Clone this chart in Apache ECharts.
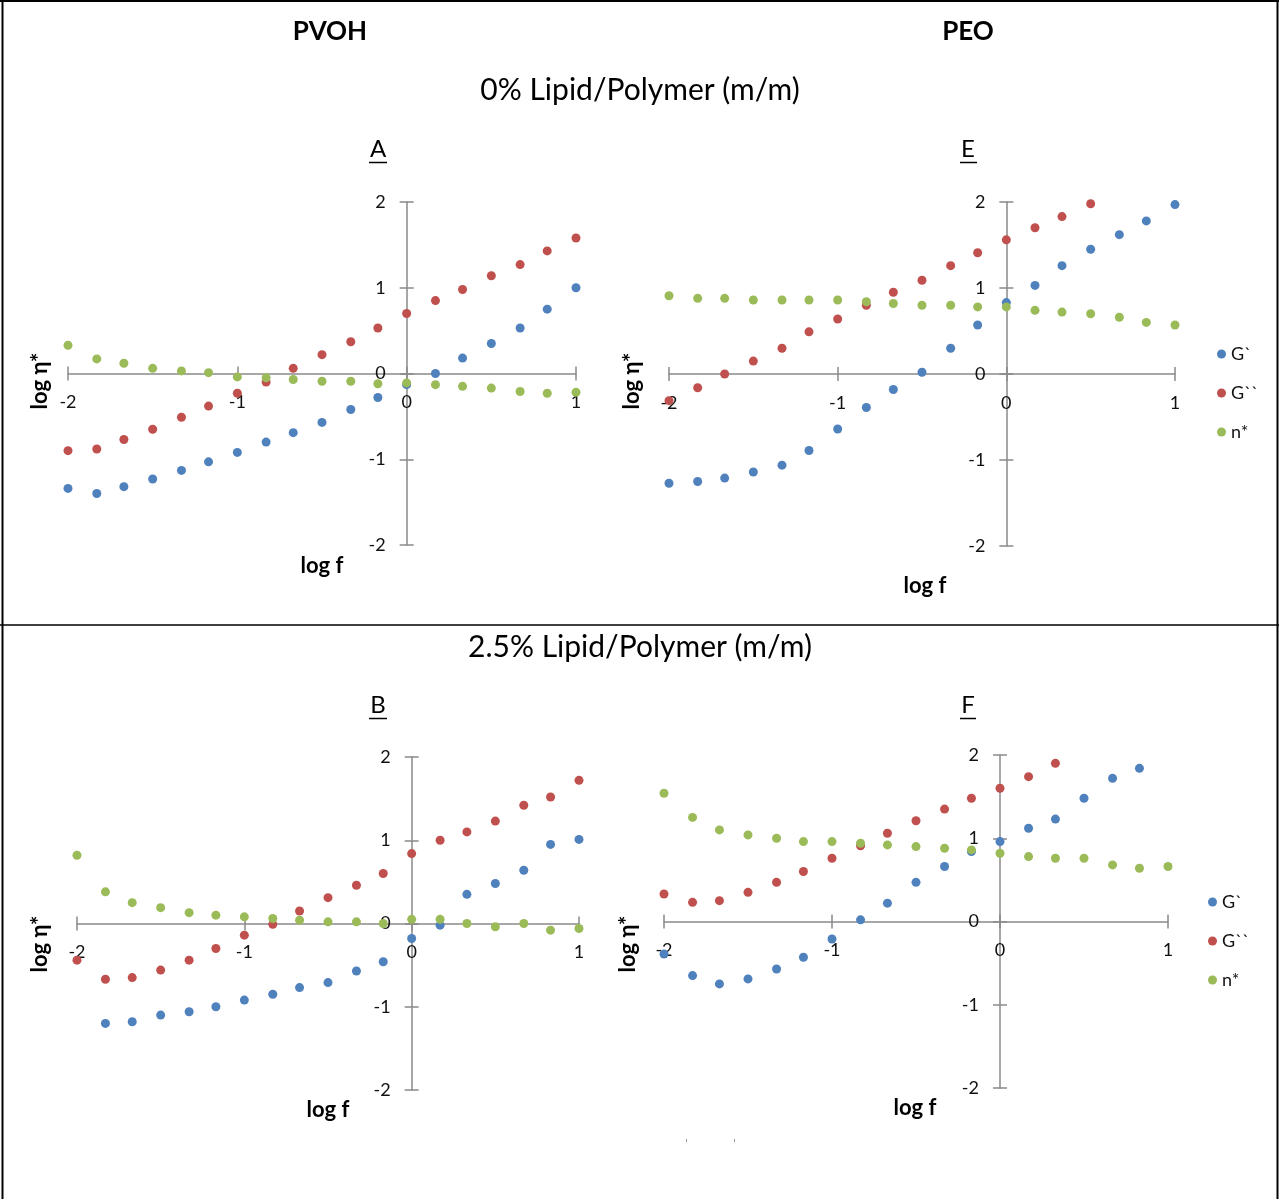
<!DOCTYPE html>
<html><head><meta charset="utf-8">
<script src="https://cdn.jsdelivr.net/npm/echarts@6/dist/echarts.min.js"></script>
<style>html,body{margin:0;padding:0;background:#fff}#c{width:1279px;height:1199px}</style>
</head><body><div id="c"></div>
<script>
// ---- data ----
const logF = [-2.00,-1.83,-1.67,-1.50,-1.33,-1.17,-1.00,-0.83,-0.67,-0.50,-0.33,-0.17,0.00,0.17,0.33,0.50,0.67,0.83,1.00];
const seriesNames = ['G`','G``','n*'];
const xTicks = [-2,-1,0,1];
const yTicks = [-2,-1,0,1,2];

// Panel A: PVOH, 0% lipid
const A_Gp  = [-1.34,-1.40,-1.32,-1.23,-1.13,-1.03,-0.92,-0.80,-0.69,-0.57,-0.42,-0.28,-0.13,0.00,0.18,0.35,0.53,0.75,1.00];
const A_Gpp = [-0.90,-0.88,-0.77,-0.65,-0.51,-0.38,-0.23,-0.10,0.06,0.22,0.37,0.53,0.70,0.85,0.98,1.14,1.27,1.43,1.58];
const A_N   = [0.33,0.17,0.12,0.06,0.03,0.01,-0.04,-0.05,-0.07,-0.09,-0.09,-0.12,-0.11,-0.13,-0.15,-0.17,-0.21,-0.23,-0.22];
// Panel E: PEO, 0% lipid
const E_Gp  = [-1.27,-1.25,-1.21,-1.14,-1.06,-0.89,-0.64,-0.39,-0.18,0.02,0.30,0.57,0.83,1.03,1.26,1.45,1.62,1.78,1.97];
const E_Gpp = [-0.31,-0.16,0.00,0.15,0.30,0.49,0.64,0.80,0.95,1.09,1.26,1.41,1.56,1.70,1.83,1.98,null,null,null];
const E_N   = [0.91,0.88,0.88,0.86,0.86,0.86,0.86,0.84,0.82,0.80,0.80,0.78,0.78,0.74,0.72,0.70,0.66,0.60,0.57];
// Panel B: PVOH, 2.5% lipid
const B_Gp  = [null,-1.20,-1.18,-1.10,-1.06,-1.00,-0.92,-0.85,-0.77,-0.71,-0.57,-0.46,-0.18,-0.02,0.35,0.48,0.64,0.95,1.01];
const B_Gpp = [-0.44,-0.67,-0.65,-0.56,-0.44,-0.30,-0.14,-0.01,0.15,0.31,0.46,0.60,0.84,1.00,1.10,1.23,1.42,1.52,1.72];
const B_N   = [0.82,0.38,0.25,0.19,0.13,0.10,0.08,0.06,0.04,0.02,0.02,0.00,0.05,0.05,0.00,-0.04,0.00,-0.08,-0.06];
// Panel F: PEO, 2.5% lipid
const F_Gp  = [-0.39,-0.65,-0.75,-0.69,-0.57,-0.43,-0.21,0.02,0.22,0.47,0.66,0.84,0.96,1.12,1.23,1.48,1.72,1.84,null];
const F_Gpp = [0.33,0.23,0.25,0.35,0.47,0.60,0.76,0.91,1.06,1.21,1.35,1.48,1.60,1.74,1.90,null,null,null,null];
const F_N   = [1.54,1.25,1.10,1.04,1.00,0.96,0.96,0.94,0.92,0.90,0.88,0.86,0.82,0.78,0.76,0.76,0.68,0.64,0.66];

// ---- layout & style ----
const COLORS = ['#4F81BD','#C0504D','#9BBB59'];
const FONT = 'Lato, "Open Sans", sans-serif';
const AXIS_COLOR = '#8a8a8a';
const panels = [
  {vals:[A_Gp,A_Gpp,A_N], left:68,  top:202, width:508, height:343},
  {vals:[E_Gp,E_Gpp,E_N], left:669, top:202, width:506, height:344},
  {vals:[B_Gp,B_Gpp,B_N], left:77,  top:757, width:502, height:333},
  {vals:[F_Gp,F_Gpp,F_N], left:664, top:755, width:504, height:333}
];

function pts(vals){
  const out = [];
  vals.forEach((v,i)=>{ if (v !== null) out.push([logF[i], v]); });
  return out;
}

const labelStyle = {fontSize:18, fontFamily:FONT, color:'#111'};
const grids = [], xAxes = [], yAxes = [], series = [];
panels.forEach((p, gi) => {
  grids.push({left:p.left, top:p.top, width:p.width, height:p.height, containLabel:false});
  const xOff = -p.height / 2;            // move x axis up to y = 0
  const yOff = -p.width * 2 / 3;         // move y axis right to x = 0
  const xBase = {type:'value', gridIndex:gi, min:xTicks[0], max:xTicks[xTicks.length-1], interval:1,
    position:'bottom', offset:xOff, splitLine:{show:false}};
  const yBase = {type:'value', gridIndex:gi, min:yTicks[0], max:yTicks[yTicks.length-1], interval:1,
    position:'left', offset:yOff, splitLine:{show:false}};
  xAxes.push(Object.assign({}, xBase, {
    axisLine:{show:true, onZero:false, lineStyle:{color:AXIS_COLOR, width:1.5}},
    axisTick:{show:true, inside:false, length:7, lineStyle:{color:AXIS_COLOR, width:1.5}},
    axisLabel:Object.assign({show:true, margin:20}, labelStyle)
  }));
  xAxes.push(Object.assign({}, xBase, {
    axisLine:{show:false, onZero:false},
    axisTick:{show:true, inside:true, length:7, lineStyle:{color:AXIS_COLOR, width:1.5}},
    axisLabel:{show:false}
  }));
  yAxes.push(Object.assign({}, yBase, {
    axisLine:{show:true, onZero:false, lineStyle:{color:AXIS_COLOR, width:1.5}},
    axisTick:{show:true, inside:false, length:7, lineStyle:{color:AXIS_COLOR, width:1.5}},
    axisLabel:Object.assign({show:true, margin:21}, labelStyle)
  }));
  yAxes.push(Object.assign({}, yBase, {
    axisLine:{show:false, onZero:false},
    axisTick:{show:true, inside:true, length:7, lineStyle:{color:AXIS_COLOR, width:1.5}},
    axisLabel:{show:false}
  }));
  p.vals.forEach((vals, si) => {
    series.push({
      type:'scatter', name:seriesNames[si], xAxisIndex:2*gi, yAxisIndex:2*gi,
      data:pts(vals), symbol:'circle', symbolSize:9, clip:false,
      itemStyle:{color:COLORS[si], opacity:1}, emphasis:{disabled:true}, z:2+si
    });
  });
});

function txt(text, x, y, font, rot){
  return {type:'text', x:x, y:y, rotation:rot||0, silent:true, z:10,
    style:{text:text, x:0, y:0, fill:'#000', font:font, align:'center', verticalAlign:'middle',
           textAlign:'center', textVerticalAlign:'middle'}};
}
function line(x1,y1,x2,y2,w,c){
  return {type:'line', silent:true, z:10, shape:{x1:x1,y1:y1,x2:x2,y2:y2}, style:{stroke:c||'#000', lineWidth:w||1}};
}
const titleFont = 'bold 26px ' + FONT;
const subFont = '30px ' + FONT;
const letterFont = '24px ' + FONT;
const axisNameFont = 'bold 22px ' + FONT;

const graphics = [
  line(0,1,1279,1,2), line(2.5,0,2.5,1199,2), line(1277.5,0,1277.5,1199,2), line(0,625,1279,625,1.5),
  txt('PVOH', 330, 32, titleFont), txt('PEO', 968, 32, titleFont),
  txt('0% Lipid/Polymer (m/m)', 640, 90, subFont),
  txt('2.5% Lipid/Polymer (m/m)', 640, 647, subFont),
  txt('A', 378, 149, letterFont), line(369,162.5,387,162.5,1.5),
  txt('E', 968, 149, letterFont), line(960,162.5,977,162.5,1.5),
  txt('B', 378, 705, letterFont), line(369,718.5,387,718.5,1.5),
  txt('F', 968, 705, letterFont), line(960,718.5,976,718.5,1.5),
  txt('log f', 322, 566, axisNameFont), txt('log f', 925, 586, axisNameFont),
  txt('log f', 328, 1110, axisNameFont), txt('log f', 915, 1108, axisNameFont),
  txt('log η*', 40, 381, axisNameFont, Math.PI/2), txt('log η*', 632, 381, axisNameFont, Math.PI/2),
  txt('log η*', 40, 944, axisNameFont, Math.PI/2), txt('log η*', 628, 944, axisNameFont, Math.PI/2),
  {type:'rect', silent:true, shape:{x:686,y:1139,width:1,height:3}, style:{fill:'#999'}},
  {type:'rect', silent:true, shape:{x:734,y:1139,width:1,height:3}, style:{fill:'#999'}}
];

const legendBase = {orient:'vertical', data:seriesNames, icon:'circle', itemWidth:9, itemHeight:9,
  itemGap:21, selectedMode:false, padding:0,
  textStyle:{fontSize:18, fontFamily:FONT, color:'#111', lineHeight:18}};

const chart = echarts.init(document.getElementById('c'), null, {renderer:'canvas'});
chart.setOption({
  animation:false,
  backgroundColor:'#ffffff',
  grid:grids, xAxis:xAxes, yAxis:yAxes, series:series,
  legend:[Object.assign({left:1217, top:345}, legendBase), Object.assign({left:1208, top:893}, legendBase)],
  graphic:{elements:graphics}
});
</script></body></html>
